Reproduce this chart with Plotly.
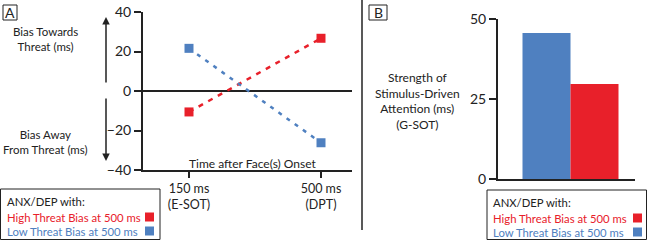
import plotly.graph_objects as go

# ---- data ----
time_labels = ["150 ms<br>(E-SOT)", "500 ms<br>(DPT)"]
time_pos = [0, 1]
high_threat = [-10.6, 26.7]
low_threat = [21.6, -26.2]
y_ticks_a = [-40, -20, 0, 20, 40]

group_labels = ["Low Threat Bias at 500 ms", "High Threat Bias at 500 ms"]
gsot_values = [45.6, 29.7]
y_ticks_b = [0, 25, 50]

RED = "#e8202a"
BLUE = "#4f80c0"
FONT = "Lato"
W, H = 647, 240

def px(x):
    return x / W

def py(y):
    return 1 - y / H

fig = go.Figure()

fig.add_trace(go.Scatter(
    x=time_pos, y=high_threat, mode="lines+markers",
    line=dict(color=RED, width=2.5, dash="5px,6px"),
    marker=dict(symbol="square", size=9, color=RED),
    xaxis="x", yaxis="y", showlegend=False))
fig.add_trace(go.Scatter(
    x=time_pos, y=low_threat, mode="lines+markers",
    line=dict(color=BLUE, width=2.5, dash="4px,6px"),
    marker=dict(symbol="square", size=9, color=BLUE),
    xaxis="x", yaxis="y", showlegend=False))

fig.add_trace(go.Bar(
    x=[0, 1], y=gsot_values, width=1,
    marker=dict(color=[BLUE, RED], line=dict(width=0)),
    xaxis="x2", yaxis="y2", showlegend=False))

axis_font = dict(family=FONT, size=14, color="#222")

fig.update_layout(
    template="none",
    width=W, height=H, autosize=False,
    margin=dict(l=0, r=0, t=0, b=0, pad=0),
    paper_bgcolor="white", plot_bgcolor="white",
    font=dict(family=FONT, size=12, color="#222"),
    xaxis=dict(
        domain=[px(143), px(352)],
        range=[(143 - 189) / 132, (352 - 189) / 132],
        tickvals=time_pos, ticktext=time_labels,
        ticks="outside", ticklen=6, tickwidth=2, tickcolor="#222",
        showline=True, linecolor="#222", linewidth=2,
        showgrid=False, zeroline=False, automargin=False,
        tickfont=dict(family=FONT, size=12.5, color="#222"),
        anchor="y", fixedrange=True),
    yaxis=dict(
        domain=[py(170), py(12)],
        range=[-40, 40],
        tickvals=y_ticks_a,
        ticks="outside", ticklen=7, tickwidth=2, tickcolor="#222",
        showline=True, linecolor="#222", linewidth=2,
        showgrid=False, zeroline=True, zerolinecolor="#222", zerolinewidth=1.5,
        automargin=False,
        tickfont=axis_font, anchor="x", fixedrange=True),
    xaxis2=dict(
        domain=[px(498), px(635)],
        range=[(498 - 546.5) / 48, (635 - 546.5) / 48],
        showticklabels=False, ticks="",
        showline=True, linecolor="#222", linewidth=2,
        showgrid=False, zeroline=False, automargin=False,
        anchor="y2", fixedrange=True),
    yaxis2=dict(
        domain=[py(179), py(19)],
        range=[0, 50],
        tickvals=y_ticks_b,
        ticks="outside", ticklen=7, tickwidth=2, tickcolor="#222",
        showline=True, linecolor="#222", linewidth=2,
        showgrid=False, zeroline=False, automargin=False,
        tickfont=axis_font, anchor="x2", fixedrange=True),
)

shapes = []
annos = []

def text(x, y, s, size=12, color="#222", xanchor="center"):
    annos.append(dict(x=px(x), y=py(y), xref="paper", yref="paper", text=s,
                      showarrow=False, xanchor=xanchor, yanchor="middle",
                      font=dict(family=FONT, size=size, color=color)))

# panel letters
shapes.append(dict(type="rect", xref="paper", yref="paper",
                   x0=px(3), x1=px(17), y0=py(20), y1=py(5),
                   line=dict(color="#222", width=1)))
text(10, 12.5, "A", size=14)
shapes.append(dict(type="rect", xref="paper", yref="paper",
                   x0=px(369), x1=px(387), y0=py(20), y1=py(5),
                   line=dict(color="#222", width=1)))
text(378, 12.5, "B", size=14)

# separator
shapes.append(dict(type="line", xref="paper", yref="paper",
                   x0=px(362), x1=px(362), y0=py(0), y1=py(230),
                   line=dict(color="#222", width=1.5)))

# arrows panel A
annos.append(dict(x=px(106), y=py(17), ax=0, ay=67, xref="paper", yref="paper",
                  axref="pixel", ayref="pixel", showarrow=True, arrowhead=2,
                  arrowsize=1, arrowwidth=1.5, arrowcolor="#222", text=""))
annos.append(dict(x=px(106), y=py(161), ax=0, ay=-64, xref="paper", yref="paper",
                  axref="pixel", ayref="pixel", showarrow=True, arrowhead=2,
                  arrowsize=1, arrowwidth=1.5, arrowcolor="#222", text=""))

text(45, 39, "Bias Towards<br>Threat (ms)", size=11.5)
text(45, 142, "Bias Away<br>From Threat (ms)", size=11.5)
text(253, 163, "Time after Face(s) Onset", size=12)
text(418, 101, "Strength of<br>Stimulus-Driven<br>Attention (ms)<br>(G-SOT)", size=12)

# legend boxes
LEG = 11.3
def legend_box(x0, x1, y0, y1, tx, mx):
    shapes.append(dict(type="rect", xref="paper", yref="paper",
                       x0=px(x0), x1=px(x1), y0=py(y1), y1=py(y0),
                       line=dict(color="#222", width=1)))
    text(tx, y0 + 12, "ANX/DEP with:", size=LEG, xanchor="left")
    text(tx, y0 + 28, group_labels[1], size=LEG, color=RED, xanchor="left")
    text(tx, y0 + 42, group_labels[0], size=LEG, color=BLUE, xanchor="left")
    for dy, c in ((28, RED), (42, BLUE)):
        shapes.append(dict(type="rect", xref="paper", yref="paper",
                           x0=px(mx), x1=px(mx + 9), y0=py(y0 + dy + 4.5), y1=py(y0 + dy - 4.5),
                           line=dict(width=0), fillcolor=c))

legend_box(0.5, 160, 189, 239.5, 5, 145)
legend_box(487, 646.5, 190, 239.5, 491, 633)

fig.update_layout(shapes=shapes, annotations=annos)
fig.write_html("out.html", config={"displayModeBar": False},
               post_script="document.body.style.margin='0';document.body.style.overflow='hidden';")
